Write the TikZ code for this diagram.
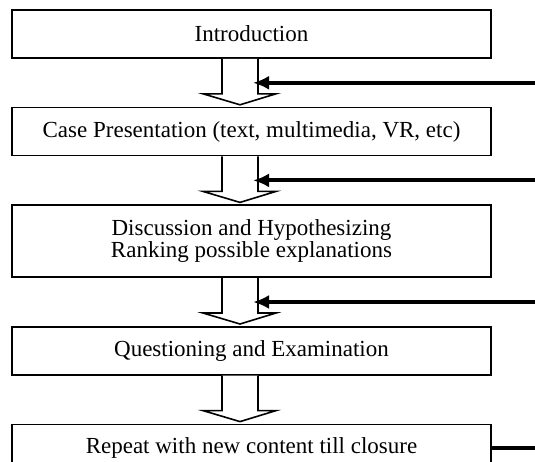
\documentclass[tikz,border=0pt]{standalone}
\usepackage{fontspec}
\setmainfont{Liberation Serif}
\usetikzlibrary{positioning,arrows.meta}

\begin{document}
\begin{tikzpicture}[font=\fontsize{23}{20}\selectfont,node distance=48pt,
        stage/.style={draw,line width=1.6pt,minimum width=479pt,minimum height=48pt,align=center},
        blockarrow/.style={draw,line width=1.6pt,fill=white},
        feedback/.style={line width=4pt,-{Latex[length=16pt,width=14pt]}}]

  \clip (0,0) rectangle (535pt,-461pt);
  \coordinate (rim) at (535pt,0);

  \node[stage] (intro) at (251.5pt,-34pt) {Introduction};
  \node[stage] (case) [below=of intro] {Case Presentation (text, multimedia, VR, etc)};
  \node[stage,minimum height=72pt] (disc) [below=of case] {Discussion and Hypothesizing\\Ranking possible explanations};
  \node[stage] (quest) [below=of disc] {Questioning and Examination};
  \node[stage] (rep) [below=of quest] {Repeat with new content till closure};

  \foreach \a/\b in {intro/case,case/disc,disc/quest,quest/rep}
    \draw[blockarrow] ([xshift=-29.5pt]\a.south) -- ++(0,-35pt) -- ++(-19pt,0)
      -- ++(37pt,-11pt) -- ++(36pt,11pt) -- ++(-18pt,0) -- ++(0,35pt);

  \foreach \a/\b/\n in {intro/case/1,case/disc/2,disc/quest/3}{
    \path ([xshift=1.5pt]\a.south) -- ([xshift=1.5pt]\b.north) coordinate[midway] (in\n);
    \draw[feedback] (rim |- in\n) -- (in\n);
  }
  \draw[line width=4pt] (rep.east) -- (rim |- rep.east);

\end{tikzpicture}
\end{document}
